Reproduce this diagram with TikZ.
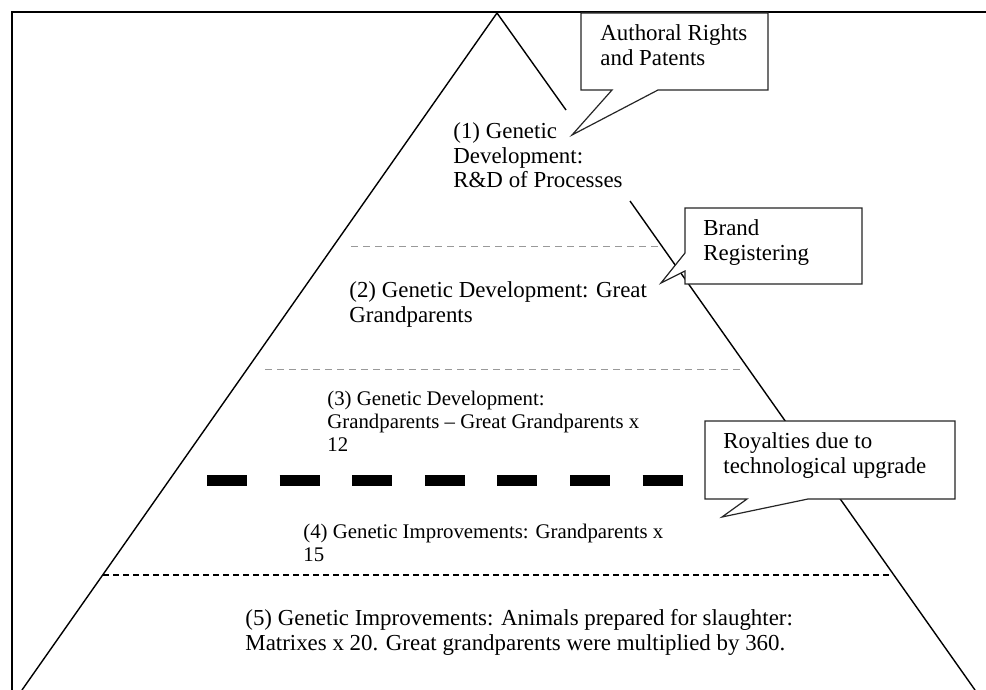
\documentclass[tikz,border=0pt]{standalone}
\usepackage{fontspec}
\setmainfont{Liberation Serif}
\begin{document}
\begin{tikzpicture}[x=0.5pt,y=-0.5pt]
\tikzset{
  frameline/.style={line width=1.1pt},
  side/.style={line width=0.7pt},
  lvl/.style={draw=black!40, line width=0.5pt, dash pattern=on 3.5pt off 2.5pt},
  lvldark/.style={line width=0.6pt, dash pattern=on 3pt off 2pt},
  bigdash/.style={line width=5.5pt, dash pattern=on 20pt off 16.3pt},
  callout/.style={fill=white, draw=black!85, line width=0.6pt, line join=miter},
  txt/.style={anchor=north west, inner sep=0pt, align=left, font=\fontsize{11.45}{12.25}\selectfont},
  txts/.style={anchor=north west, inner sep=0pt, align=left, font=\fontsize{10.4}{11.5}\selectfont},
}
\useasboundingbox (0,0) rectangle (986,690);
% frame
\draw[frameline] (12,690) -- (12,12) -- (986,12);
% pyramid
\coordinate (apex) at (497,13);
\coordinate (bl) at (22,690);
\coordinate (br) at (975,690);
\coordinate (r1) at (566,110);
\coordinate (r2) at (630,201);
\draw[side] (bl) -- (apex) -- (r1);
\draw[side] (r2) -- (br);
% level separators
\draw[lvl] (351,246) -- (661,246);
\draw[lvl] (265,369) -- (745,369);
\draw[bigdash] (207,480) -- (684,480);
\draw[lvldark] (103,575) -- (889,575);
% texts
\node[txt] (t1) at (453,121) {\strut(1) Genetic\\Development:\\R\&D of Processes};
\node[txt] (t2) at (349,280) {\strut(2) Genetic Development: Great\\Grandparents};
\node[txts] (t3) at (327,389) {\strut(3) Genetic Development:\\Grandparents – Great Grandparents x\\12};
\node[txts] (t4) at (303,522) {\strut(4) Genetic Improvements: Grandparents x\\15};
\node[txt] (t5) at (245,608) {\strut(5) Genetic Improvements: Animals prepared for slaughter:\\Matrixes x 20. Great grandparents were multiplied by 360.};
% callouts
\draw[callout] (581,13) -- (768,13) -- (768,90) -- (658,90) -- (572,135) -- (612,90) -- (581,90) -- cycle;
\node[txt] (c1) at (600,23) {\strut Authoral Rights\\and Patents};
\draw[callout] (685,208) -- (862,208) -- (862,284) -- (685,284) -- (685,271) -- (661,283) -- (685,253) -- cycle;
\node[txt] (c2) at (703,218) {\strut Brand\\Registering};
\draw[callout] (705,421) -- (955,421) -- (955,499) -- (808,499) -- (722,517) -- (747,499) -- (705,499) -- cycle;
\node[txt] (c3) at (723,431) {\strut Royalties due to\\technological upgrade};
\end{tikzpicture}
\end{document}
